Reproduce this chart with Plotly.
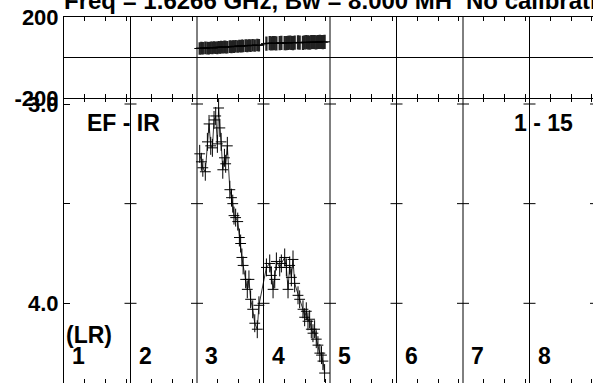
import plotly.graph_objects as go

# ---------------- data ----------------
baseline_labels = ["1", "2", "3", "4", "5", "6", "7", "8"]
pol_label = "(LR)"
pair_label = "EF - IR"
chan_label = "1 - 15"
title_left = "Freq = 1.6266 GHz, Bw = 8.000 MH"
title_right = "No calibration applied"

phase_tick_vals = [-200, 200]
phase_tick_text = ["-200", "200"]
amp_tick_vals = [3.0, 3.5, 4.0]
amp_tick_text = ["3.0", "", "4.0"]

time_span = 3.2          # time units per baseline column
time_ticks = [1, 2, 3]   # minor time ticks inside each column

# baseline column 3
col3_time = [0.13, 0.21, 0.28, 0.40, 0.50, 0.58, 0.66, 0.74, 0.82, 0.90, 0.98, 1.04,
             1.10, 1.16, 1.24, 1.32, 1.38, 1.46, 1.58, 1.66, 1.72, 1.78, 1.86, 1.96,
             2.04, 2.10, 2.16, 2.22, 2.34, 2.42, 2.50, 2.58, 2.68, 2.78, 2.90, 2.98]
col3_amp = [3.25, 3.29, 3.32, 3.34, 3.19, 3.10, 3.21, 3.22, 3.08, 3.06, 3.20, 3.02,
            3.12, 3.19, 3.33, 3.27, 3.30, 3.21, 3.43, 3.47, 3.50, 3.56, 3.57, 3.59,
            3.67, 3.70, 3.77, 3.81, 3.88, 3.93, 3.88, 3.98, 4.03, 4.10, 4.13, 4.01]
col3_phase = [45, 47, 46, 48, 47, 46, 49, 48, 50, 49, 48, 51,
              50, 52, 51, 53, 52, 51, 54, 53, 55, 54, 56, 55,
              57, 56, 58, 57, 59, 58, 60, 59, 61, 60, 62, 61]
col3_phase_err = 31

# baseline column 4
col4_time = [0.14, 0.30, 0.38, 0.46, 0.54, 0.62, 0.78, 0.86, 1.02, 1.10, 1.18, 1.26,
             1.34, 1.42, 1.50, 1.66, 1.74, 1.90, 1.98, 2.06, 2.14, 2.22, 2.30, 2.38,
             2.46, 2.54, 2.62, 2.71, 2.79, 2.86, 2.94]
col4_amp = [3.82, 3.80, 3.86, 3.93, 3.88, 3.79, 3.82, 3.80, 3.77, 3.82, 3.93, 3.81,
            3.87, 3.78, 3.90, 3.96, 3.98, 4.03, 4.07, 4.04, 4.09, 4.08, 4.13, 4.15,
            4.13, 4.18, 4.21, 4.25, 4.26, 4.29, 4.35]
col4_phase = [69, 71, 70, 72, 71, 70, 72, 73, 72, 71, 73, 74,
              73, 72, 74, 75, 74, 73, 75, 76, 75, 74, 76, 77,
              76, 75, 77, 78, 77, 76, 78]
col4_phase_err = 35

amp_err = 0.045
time_halfwidth = 0.26

# ---------------- geometry helpers ----------------
W, H = 593, 383
ML, MR, MT, MB = 64, 0, 17, 0
PW, PH = W - ML - MR, H - MT - MB
px_per_col = 66.5
x_max = PW / px_per_col * time_span


def paper_x(px):
    return (px - ML) / PW


def paper_y(py):
    return (H - MB - py) / PH


split = paper_y(98.3)
amp_top_val = 3.0 - (104 - 98.3) / 199.3
amp_bot_val = 3.0 + (H - 104) / 199.3

x3 = [2 * time_span + t for t in col3_time]
x4 = [3 * time_span + t for t in col4_time]
xs = x3 + x4
amps = col3_amp + col4_amp
phases = col3_phase + col4_phase
phase_errs = [col3_phase_err] * len(col3_phase) + [col4_phase_err] * len(col4_phase)

fig = go.Figure()

common_err_x = dict(type="constant", value=time_halfwidth, width=0, thickness=1, color="black")

fig.add_trace(go.Scatter(
    x=xs, y=phases, mode="lines", xaxis="x", yaxis="y",
    line=dict(color="black", width=1),
    error_x=common_err_x,
    error_y=dict(type="data", array=phase_errs, width=0, thickness=2.3, color="#222222"),
    hoverinfo="skip"))

fig.add_trace(go.Scatter(
    x=xs, y=amps, mode="lines", xaxis="x2", yaxis="y2",
    line=dict(color="black", width=0.8),
    error_x=common_err_x,
    error_y=dict(type="constant", value=amp_err, width=0, thickness=1, color="black"),
    hoverinfo="skip"))

tick_positions = [k * time_span + t for k in range(8) for t in time_ticks]
font_tick = dict(family="Liberation Sans, Arial", size=22, color="black", weight="bold")

xcommon = dict(range=[0, x_max], domain=[0, 1], ticks="inside", ticklen=4, tickcolor="black",
               tickwidth=1, tickmode="array", tickvals=tick_positions, showticklabels=False,
               showgrid=False, zeroline=False, linecolor="black", linewidth=1,
               automargin=False)

fig.update_layout(
    template="none",
    width=W, height=H, margin=dict(l=ML, r=MR, t=MT, b=MB, autoexpand=False),
    paper_bgcolor="white", plot_bgcolor="white", showlegend=False,
    xaxis=dict(**xcommon, anchor="y", showline=True, mirror="ticks"),
    yaxis=dict(domain=[split, 1], range=[-200, 200], anchor="x", showline=True,
               linecolor="black", linewidth=1, ticks="inside", ticklen=6, tickcolor="black",
               tickmode="array", tickvals=phase_tick_vals, ticktext=phase_tick_text,
               tickfont=font_tick, showgrid=False, zeroline=True, zerolinecolor="black",
               zerolinewidth=1, automargin=False),
    xaxis2=dict(**xcommon, anchor="y2", showline=False, mirror="ticks"),
    yaxis2=dict(domain=[0, split], range=[amp_bot_val, amp_top_val], anchor="x2",
                showline=True, linecolor="black", linewidth=1, ticks="inside", ticklen=6,
                tickcolor="black", tickmode="array", tickvals=amp_tick_vals,
                ticktext=amp_tick_text, tickfont=font_tick, showgrid=False, zeroline=False,
                automargin=False),
)

shapes = []
for k in range(1, 8):
    shapes.append(dict(type="line", xref="x", yref="paper", x0=k * time_span, x1=k * time_span,
                       y0=0, y1=1, line=dict(color="black", width=1), layer="above"))
for k in range(1, 9):
    for v in amp_tick_vals:
        shapes.append(dict(type="line", xref="x2", yref="y2", xsizemode="pixel",
                           xanchor=k * time_span, x0=-6, x1=6, y0=v, y1=v,
                           line=dict(color="black", width=1)))
fig.update_layout(shapes=shapes)

font_lbl = dict(family="Liberation Sans, Arial", size=23, color="black", weight="bold")
font_title = dict(family="Liberation Sans, Arial", size=24, color="black", weight="bold")

ann = []
ann.append(dict(text=title_left, xref="paper", yref="paper", x=paper_x(62), y=paper_y(0),
                xanchor="left", yanchor="middle", showarrow=False, font=font_title))
ann.append(dict(text=title_right, xref="paper", yref="paper", x=paper_x(464), y=paper_y(0),
                xanchor="left", yanchor="middle", showarrow=False, font=font_title))
ann.append(dict(text=pair_label, xref="paper", yref="paper", x=paper_x(85), y=paper_y(123),
                xanchor="left", yanchor="middle", showarrow=False, font=font_lbl))
ann.append(dict(text=chan_label, xref="paper", yref="paper", x=paper_x(512), y=paper_y(123),
                xanchor="left", yanchor="middle", showarrow=False, font=font_lbl))
ann.append(dict(text=pol_label, xref="paper", yref="paper", x=paper_x(64), y=paper_y(335),
                xanchor="left", yanchor="middle", showarrow=False, font=font_lbl))
for i, lbl in enumerate(baseline_labels):
    ann.append(dict(text=lbl, xref="x2", yref="paper", x=i * time_span, xshift=6,
                    y=paper_y(356), xanchor="left", yanchor="middle", showarrow=False,
                    font=font_lbl))
fig.update_layout(annotations=ann)

fig.write_html("out.html", config={"displayModeBar": False},
               post_script="document.body.style.margin='0px';")
